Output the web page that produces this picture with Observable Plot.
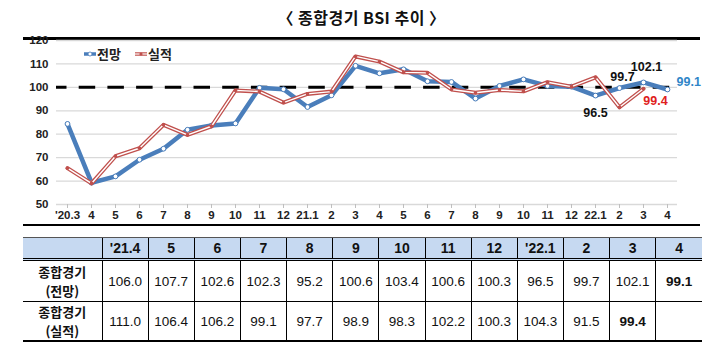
<!DOCTYPE html>
<html><head><meta charset="utf-8">
<script src="https://cdn.jsdelivr.net/npm/d3@7"></script>
<script src="https://cdn.jsdelivr.net/npm/@observablehq/plot@0.6"></script>
<style>
body{margin:0;width:723px;height:352px;position:relative;background:#fff;overflow:hidden;font-family:"Noto Sans CJK KR",sans-serif;}
#title{position:absolute;left:0;top:5px;width:723px;text-align:center;font-weight:bold;font-size:16px;letter-spacing:0.5px;color:#111;}
.hline{position:absolute;left:23px;width:677px;background:#000;}
#chart{position:absolute;left:0;top:36px;}
#legend{position:absolute;left:84px;top:44px;display:flex;align-items:center;font-weight:bold;font-size:13px;color:#222;}
#legend span{margin-right:14px;}
table{position:absolute;left:23px;top:237px;border-collapse:collapse;table-layout:fixed;width:679px;}
td{text-align:center;padding:0;font-family:"Liberation Sans Narrow","Liberation Sans",sans-serif;font-size:13.5px;color:#111;}
td+td{border-left:1px solid #000;}
tr.h td{background:#c6d9f1;height:20px;font-family:"Liberation Sans",Arial,sans-serif;font-weight:bold;font-size:14px;border-top:1px solid #555;border-bottom:3px double #000;}
tr.r1 td{height:40px;border-bottom:1px solid #000;}
tr.r2 td{height:38px;border-bottom:2.5px solid #000;}
td.lab{font-family:"Noto Sans CJK KR",sans-serif;font-weight:bold;font-size:13px;line-height:19px;}
td.lab div{height:19px;line-height:19px;}
td.b{font-weight:bold;}
</style></head><body>
<div id="title">〈 종합경기 BSI 추이 〉</div>
<div class="hline" style="top:37px;height:2.5px"></div>
<div id="chart"></div>
<div class="hline" style="top:224px;height:2px"></div>
<div id="legend"></div>
<table id="tbl"></table>
<script>
// x categories (tick labels)
const xLabels = ["'20.3","4","5","6","7","8","9","10","11","12","21.1","2","3","4","5","6","7","8","9","10","11","12","22.1","2","3","4"];
// 전망 (forecast)
const forecast = [84.4,59.3,62.0,69.1,73.8,81.9,83.7,84.6,99.8,99.2,91.6,96.6,109.2,106.0,107.7,102.6,102.3,95.2,100.6,103.4,100.6,100.3,96.5,99.7,102.1,99.1];
// 실적 (actual)
const actual = [65.5,59.0,70.6,74.0,84.0,79.7,83.4,98.7,98.2,93.5,97.2,98.2,113.2,111.0,106.4,106.2,99.1,97.7,98.9,98.3,102.2,100.3,104.3,91.5,99.4];
const yTicks = [50,60,70,80,90,100,110,120];
const baseline = [100];
const seriesNames = ["전망","실적"];
// table
const tableHeader = ["'21.4","5","6","7","8","9","10","11","12","'22.1","2","3","4"];
const tableRowLabels = [["종합경기","(전망)"],["종합경기","(실적)"]];
const tableForecast = ["106.0","107.7","102.6","102.3","95.2","100.6","103.4","100.6","100.3","96.5","99.7","102.1","99.1"];
const tableActual = ["111.0","106.4","106.2","99.1","97.7","98.9","98.3","102.2","100.3","104.3","91.5","99.4",""];

const blue = "#4a7ebb", red = "#c0504d";
const fData = forecast.map((v,i)=>({i,v}));
const aData = actual.map((v,i)=>({i,v}));
const n = xLabels.length;
const annoFont = {fontFamily:"'Liberation Sans Narrow','Liberation Sans',sans-serif", fontSize:12.5};

const chart = Plot.plot({
  width:723, height:190, marginLeft:56, marginRight:46, marginTop:4, marginBottom:22,
  x:{type:"point", domain:d3.range(n), padding:0},
  y:{domain:[50,120]},
  style:{fontFamily:"'Liberation Sans Narrow','Liberation Sans',sans-serif", fontSize:"11.5px", fontWeight:"bold", color:"#222", background:"transparent", overflow:"visible"},
  marks:[
    Plot.ruleY(yTicks,{stroke:"#d9d9d9", strokeWidth:1.3}),
    Plot.axisY({ticks:yTicks, tickSize:0, tickPadding:8, label:null}),
    Plot.axisX({tickFormat:i=>xLabels[i], tickSize:4, tickPadding:2, label:null, stroke:"#bfbfbf"}),
    Plot.ruleY(baseline,{stroke:"#000", strokeWidth:3, strokeDasharray:"16.5,12.2", strokeDashoffset:6}),
    Plot.line(fData,{x:"i", y:"v", stroke:blue, strokeWidth:4.5}),
    Plot.dot(fData,{x:"i", y:"v", r:2.4, fill:"white", stroke:blue, strokeWidth:1}),
    Plot.line(aData,{x:"i", y:"v", stroke:red, strokeWidth:4}),
    Plot.line(aData,{x:"i", y:"v", stroke:"white", strokeWidth:1.4}),
    Plot.dot(aData,{x:"i", y:"v", r:1.8, fill:red}),
    Plot.text([22],{x:d=>d, y:d=>forecast[d], text:d=>forecast[d].toFixed(1), dy:17, fill:"#111", ...annoFont}),
    Plot.text([23],{x:d=>d, y:d=>forecast[d], text:d=>forecast[d].toFixed(1), dx:3, dy:-11, fill:"#111", ...annoFont}),
    Plot.text([24],{x:d=>d, y:d=>forecast[d], text:d=>forecast[d].toFixed(1), dx:3, dy:-15, fill:"#111", ...annoFont}),
    Plot.text([24],{x:d=>d, y:d=>actual[d], text:d=>actual[d].toFixed(1), dx:12, dy:12, fill:"#e02020", fontWeight:"bold", ...annoFont}),
    Plot.text([25],{x:d=>d, y:d=>forecast[d], text:d=>forecast[d].toFixed(1), dx:9, dy:-7, textAnchor:"start", fill:"#2f86c8", ...annoFont})
  ]
});
document.getElementById("chart").appendChild(chart);

// legend
const lg = document.getElementById("legend");
lg.innerHTML =
  `<svg width="12" height="8" style="margin-right:1px"><line x1="0" y1="4" x2="12" y2="4" stroke="${blue}" stroke-width="3.5"/><circle cx="6" cy="4" r="2" fill="white" stroke="${blue}" stroke-width="0.8"/></svg><span>${seriesNames[0]}</span>` +
  `<svg width="12" height="8" style="margin-right:1px"><line x1="0" y1="4" x2="12" y2="4" stroke="${red}" stroke-width="3.5"/><line x1="0" y1="4" x2="12" y2="4" stroke="white" stroke-width="1.2"/><circle cx="6" cy="4" r="1.6" fill="${red}"/></svg><span>${seriesNames[1]}</span>`;

// table
const tbl = document.getElementById("tbl");
let html = `<colgroup><col style="width:79px">${tableHeader.map(()=>'<col style="width:46.15px">').join("")}</colgroup>`;
html += `<tr class="h"><td></td>${tableHeader.map(h=>`<td>${h}</td>`).join("")}</tr>`;
const last = tableHeader.length-1;
const labCell = l => `<td class="lab">${l.map(s=>`<div>${s}</div>`).join("")}</td>`;
html += `<tr class="r1">${labCell(tableRowLabels[0])}${tableForecast.map((v,i)=>`<td class="${i===last?'b':''}">${v}</td>`).join("")}</tr>`;
html += `<tr class="r2">${labCell(tableRowLabels[1])}${tableActual.map((v,i)=>`<td class="${i===last-1?'b':''}">${v}</td>`).join("")}</tr>`;
tbl.innerHTML = html;
</script>
</body></html>
